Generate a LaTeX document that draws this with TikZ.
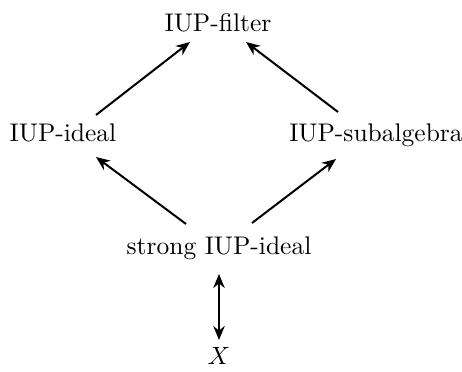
\documentclass[tikz,border=0pt]{standalone}
\usetikzlibrary{arrows.meta}
\begin{document}
\begin{tikzpicture}[x=0.4pt,y=-0.4pt,
  font=\fontsize{10.2}{12.5}\selectfont,
  lbl/.style={anchor=base,inner sep=0pt},
  arr/.style={-{Stealth[length=5.6pt,width=4.6pt]},line width=0.8pt},
  darr/.style={{Stealth[length=5.6pt,width=4.6pt]}-{Stealth[length=5.6pt,width=4.6pt]},line width=0.8pt}]
\useasboundingbox (0,0) rectangle (462,372);
\node[lbl] (filter) at (218,32) {IUP-filter};
\node[lbl] (ideal) at (63,142) {IUP-ideal};
\node[lbl] (sub) at (376,142) {IUP-subalgebra};
\node[lbl] (strong) at (219,255) {strong IUP-ideal};
\node[lbl] (x) at (219,365) {$X$};
\draw[arr] ([xshift=13.2pt,yshift=10.8pt]ideal.base) -- ([xshift=-11.2pt,yshift=-4pt]filter.base);
\draw[arr] ([xshift=-15.2pt,yshift=12pt]sub.base) -- ([xshift=11.2pt,yshift=-4pt]filter.base);
\draw[arr] ([xshift=-13.2pt,yshift=12.4pt]strong.base) -- ([xshift=13.2pt,yshift=-6pt]ideal.base);
\draw[arr] ([xshift=13.2pt,yshift=12.8pt]strong.base) -- ([xshift=-16pt,yshift=-6.8pt]sub.base);
\draw[darr] ([yshift=-7.6pt]strong.base) -- ([yshift=10pt]x.base);
\end{tikzpicture}
\end{document}
